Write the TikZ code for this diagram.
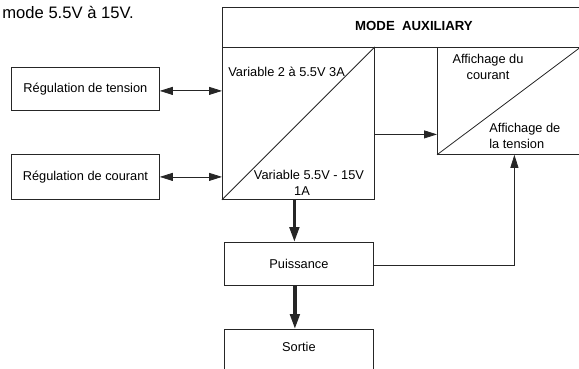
\documentclass[tikz,border=0pt]{standalone}
\usepackage{fontspec}
\setmainfont{Liberation Sans}
\usepackage{tikz}
\usetikzlibrary{arrows.meta}

\begin{document}
\begin{tikzpicture}[x=1pt, y=-1pt, line width=0.8pt, draw=black!85,
  every node/.style={font=\fontsize{12.8}{15.5}\selectfont},
  blk/.style={draw, rectangle, line width=0.8pt, anchor=north west},
  txt/.style={inner sep=0pt, align=center},
  thinarr/.style={-{Triangle[length=13pt,width=8pt]}},
  dblarr/.style={{Triangle[length=13pt,width=8pt]}-{Triangle[length=13pt,width=8pt]}},
  thickarr/.style={line width=3.3pt, -{Triangle[length=15pt,width=9.5pt]}}]
\clip (0,0) rectangle (579,369);

% Title
\node[anchor=west, inner sep=0pt, font=\fontsize{16.6}{19}\selectfont] (title) at (2,12) {mode 5.5V à 15V.};

% Auxiliary mode header
\node[blk, minimum width=384pt, minimum height=40pt] (aux) at (222,7) {};
\node[txt, font=\fontsize{13.2}{15}\selectfont\bfseries] (auxlabel) at (414,26) {MODE\ \ AUXILIARY};

% Variable supply
\node[blk, minimum width=152pt, minimum height=152pt] (var) at (222,47) {};
\draw (var.south west) -- (var.north east);
\node[txt, anchor=west] (varhi) at (228,72) {Variable 2 à 5.5V 3A};
\node[txt] (varlo) at (309,183) {Variable 5.5V - 15V\\1A\hspace*{14pt}};

% Display
\node[blk, minimum width=143pt, minimum height=107pt] (disp) at (437,47) {};
\draw (disp.south west) -- (disp.north east);
\node[txt] (dispi) at (488,67) {Affichage du\\courant};
\node[txt, align=left, anchor=west] (dispu) at (489,136) {Affichage de\\la tension};

% Regulation
\node[blk, minimum width=148pt, minimum height=43pt] (regT) at (11,67) {Régulation de tension};
\node[blk, minimum width=148pt, minimum height=45pt] (regC) at (11,154) {Régulation de courant};

% Power and output
\node[blk, minimum width=149pt, minimum height=43pt] (puis) at (224,242) {Puissance};
\node[blk, minimum width=149pt, minimum height=50pt, text depth=16pt] (sortie) at (224,329) {Sortie};

% Arrows
\draw[dblarr] ([yshift=-2pt]regT.east) -- ([yshift=-2pt]regT.east -| var.west);
\draw[dblarr] (regC.east) -- (regC.east -| var.west);
\draw[thinarr] ([yshift=-11pt]var.east) -- ([yshift=-11pt]var.east -| disp.west);
\draw[thickarr] ([xshift=-4pt]var.south) -- ([xshift=-4pt]var.south |- puis.north);
\draw[thickarr] ([xshift=-4pt]puis.south) -- ([xshift=-4pt]sortie.north);
\draw[thinarr] ([yshift=-1.5pt]puis.east) -| ([xshift=5.5pt]disp.south);
\end{tikzpicture}
\end{document}
